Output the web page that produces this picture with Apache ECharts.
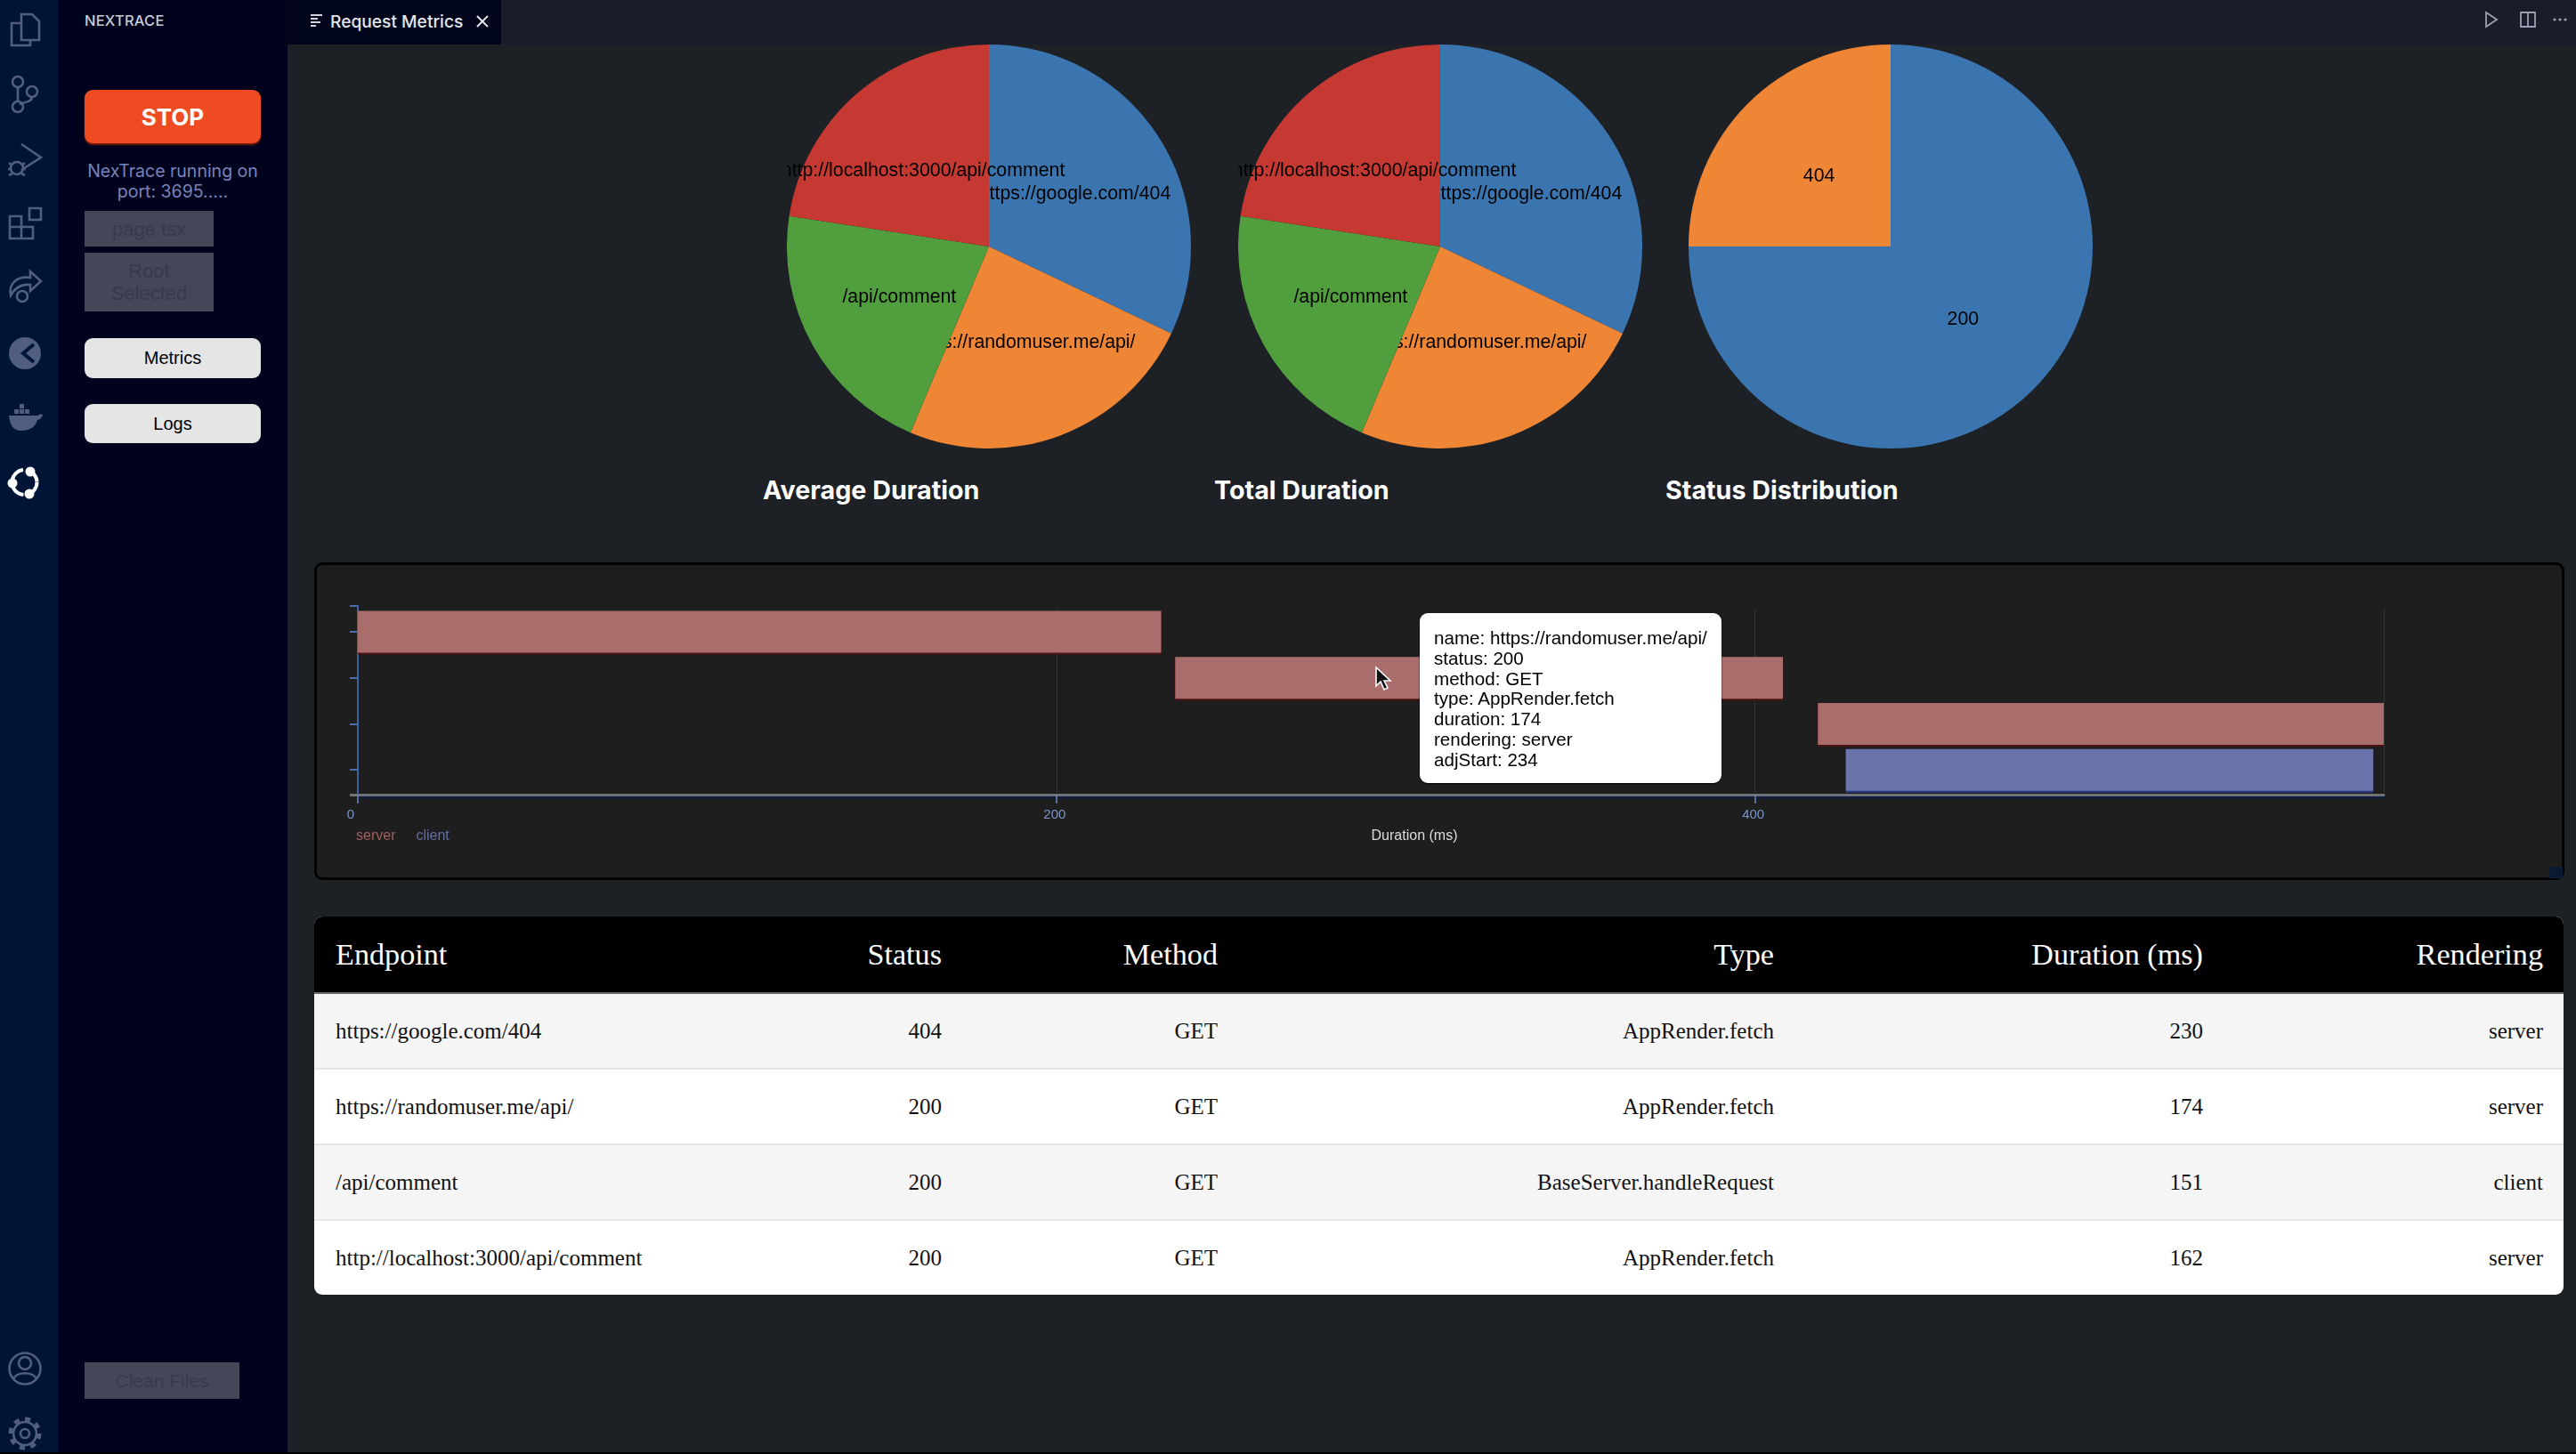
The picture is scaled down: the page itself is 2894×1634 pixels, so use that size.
<!DOCTYPE html>
<html>
<head>
<meta charset="utf-8">
<title>Request Metrics</title>
<script src="https://cdn.jsdelivr.net/npm/echarts@6/dist/echarts.min.js"></script>
<style>
html, body { margin: 0; padding: 0; width: 2894px; height: 1634px; overflow: hidden; background: #1d2025; }
div { position: absolute; box-sizing: border-box; }
svg { position: absolute; overflow: visible; }
.ui { font-family: Inter, "Liberation Sans", sans-serif; text-align: center; }
.btn { display: flex; align-items: center; justify-content: center; line-height: 25px; text-align: center; }
.off { background: #454658; color: #383a4a; font-size: 22px; font-family: "Liberation Sans", sans-serif; }
.light { left: 95px; width: 198px; background: #e5e5e5; border-radius: 9px; color: #000; font-size: 20px; font-family: "Liberation Sans", sans-serif; }
.title { top: 531px; height: 40px; color: #fff; font: 700 28.7px/40px Inter, sans-serif; white-space: nowrap; }
.pie { top: 50px; width: 454px; height: 454px; }
table { position: absolute; left: 353px; top: 1030px; width: 2527px; border-collapse: separate; border-spacing: 0; table-layout: fixed;
  font-family: "Liberation Serif", serif; font-size: 25px; color: #111; border-radius: 9px; overflow: hidden; background: #fff; }
th { height: 85px; background: #000; color: #fff; font-size: 34.2px; font-weight: 400; text-align: right; padding: 0 23px; }
td { height: 85px; text-align: right; padding: 0 23px; border-top: 2px solid #e6e6e6; box-sizing: border-box; }
th:first-child, td:first-child { text-align: left; padding-left: 24px; }
tbody tr:nth-child(odd) td { background: #f5f5f5; }
tbody tr:nth-child(1) td { border-top: 2px solid #666; }
</style>
</head>
<body>
<!-- sidebar, tabs -->
<div style="left:0;top:0;width:65px;height:1634px;background:#001535"></div>
<div style="left:65px;top:0;width:258px;height:1634px;background:#00021e"></div>
<div style="left:323px;top:0;width:2571px;height:50px;background:#1a1c2b"></div>
<div style="left:323px;top:0;width:240px;height:50px;background:#00051c"></div>
<div style="left:0;top:1632px;width:2894px;height:2px;background:#000"></div>

<svg style="left:0;top:0" width="65" height="1634" fill="none" stroke="#515e80" stroke-width="2.6">
  <path d="M24 16h12l8 8v21H24zM24 26H13v25h21v-6"/>
  <circle cx="20" cy="92" r="6"/><circle cx="20" cy="120" r="6"/><circle cx="36" cy="103" r="6"/><path d="M20 98v16M36 109c0 6-10 6-14 8"/>
  <path d="M24 162l22 15-22 14"/><circle cx="19" cy="189" r="7"/><path d="M10 183l4 3M10 197l4-2M28 183l-4 3M28 197l-4-2M9 190h3M26 190h3"/>
  <path d="M11 243h13v12H11zM11 255h13v13H11zM24 255h13v13H24zM33 234h13v13H33z"/>
  <path d="M12 332c-3-14 8-22 22-20v-7l12 11-12 11v-7c-10-1-17 3-22 12z"/><circle cx="25" cy="333" r="6"/>
  <g fill="#515e80" stroke="none">
    <circle cx="28" cy="397" r="18"/>
    <path d="M10 467h32c2-1 4-2 6-1-1 4-4 6-6 6-2 8-9 12-18 12-9 0-13-6-14-17z"/>
    <path d="M16 460h5v5h-5zM22 460h5v5h-5zM28 460h5v5h-5zM22 454h5v5h-5z"/>
  </g>
  <path d="M38 387l-12 10 12 10" stroke="#00153a" stroke-width="4"/>
  <circle cx="27.5" cy="542" r="14" stroke="#fff" stroke-width="4" stroke-dasharray="18 5"/>
  <g fill="#fff" stroke="none"><circle cx="34" cy="530" r="5.5"/><circle cx="14" cy="543" r="5.5"/><circle cx="33" cy="555" r="5.5"/></g>
  <circle cx="28" cy="1538" r="17.5"/><circle cx="28" cy="1532" r="7"/><path d="M15 1550c3-9 23-9 26 0"/>
  <circle cx="28" cy="1611" r="5"/><circle cx="28" cy="1611" r="13"/><circle cx="28" cy="1611" r="16" stroke-width="5" stroke-dasharray="6 6.5"/>
</svg>

<div class="ui" style="left:95px;top:12px;color:#c8ccd6;font-size:16.5px;line-height:22px;font-weight:500;letter-spacing:.2px">NEXTRACE</div>
<div class="ui btn" style="left:95px;top:101px;width:198px;height:60px;background:#ee4b23;border-radius:9px;color:#fff;font-size:26px;font-weight:700;box-shadow:0 2px 2px #7a1f0a">STOP</div>
<div class="ui" style="left:65px;top:181px;width:258px;color:#7a83bb;font-size:19.5px;line-height:23px">NexTrace running on<br>port: 3695.....</div>
<div class="btn off" style="left:95px;top:237px;width:145px;height:40px">page.tsx</div>
<div class="btn off" style="left:95px;top:284px;width:145px;height:66px">Root<br>Selected</div>
<div class="btn light" style="top:380px;height:45px">Metrics</div>
<div class="btn light" style="top:454px;height:44px">Logs</div>
<div class="btn off" style="left:95px;top:1531px;width:174px;height:41px;font-size:21px">Clean Files</div>

<svg style="left:348px;top:16px" width="18" height="16" fill="none" stroke="#cfd3dc" stroke-width="1.8"><path d="M1 1h13M1 5h8M1 9h11M1 13h6"/></svg>
<div style="left:371px;top:10px;color:#e4e6ec;font:500 19.2px/28px Inter,sans-serif;white-space:nowrap">Request Metrics</div>
<svg style="left:535px;top:17px" width="14" height="14" fill="none" stroke="#e4e6ec" stroke-width="2"><path d="M1 1l12 12M13 1L1 13"/></svg>
<svg style="left:2790px;top:12px" width="90" height="20" fill="none" stroke="#9aa0b0" stroke-width="1.8">
  <path d="M3 2l12 8-12 8z"/><path d="M42 2h16v16H42zM50 2v16"/>
  <g fill="#9aa0b0" stroke="none"><circle cx="80" cy="10" r="1.6"/><circle cx="86" cy="10" r="1.6"/><circle cx="92" cy="10" r="1.6"/></g>
</svg>

<!-- pies -->
<div class="pie" id="avgPie" style="left:884px"></div>
<div class="pie" id="totalPie" style="left:1391px"></div>
<div class="pie" id="statusPie" style="left:1897px"></div>
<div class="title" style="left:857px">Average Duration</div>
<div class="title" style="left:1364px">Total Duration</div>
<div class="title" style="left:1871px">Status Distribution</div>

<!-- timeline -->
<div style="left:353px;top:632px;width:2528px;height:357px;background:#1e1e1e;border:3px solid #000;border-radius:9px"></div>
<div id="timeline" style="left:357px;top:635px;width:2521px;height:351px"></div>
<div style="left:2864px;top:974px;width:15px;height:13px;background:#0a1a33"></div>
<!-- outer ticks of the y axis -->
<div style="left:393px;top:680px;width:10px;height:2px;background:#4a6aa8"></div>
<div style="left:401px;top:680px;width:2px;height:6px;background:#3f5f9f"></div>
<div style="left:393px;top:892px;width:9px;height:3px;background:#707276"></div>

<table id="table"></table>

<svg style="left:1544px;top:749px" width="20" height="28"><path d="M2 1v21l5-5 4 9 4-2-4-8h7z" fill="#111" stroke="#fff" stroke-width="1.6"/></svg>

<script>
var endpoints = ['https://google.com/404', 'https://randomuser.me/api/', '/api/comment', 'http://localhost:3000/api/comment'];
var statuses = [404, 200, 200, 200];
var methods = ['GET', 'GET', 'GET', 'GET'];
var types = ['AppRender.fetch', 'AppRender.fetch', 'BaseServer.handleRequest', 'AppRender.fetch'];
var durations = [230, 174, 151, 162];
var renderings = ['server', 'server', 'client', 'server'];

var statusNames = ['200', '404'];
var statusCounts = [3, 1];

// timeline rows, top to bottom
var rowNames = ['https://google.com/404', 'https://randomuser.me/api/', 'http://localhost:3000/api/comment', '/api/comment'];
var adjStarts = [0, 234, 418, 426];
var serverDurations = [230, 174, 162, null];
var clientDurations = [null, null, null, 151];

var pieColors = ['#3a75af', '#ef8636', '#519e3e', '#c53932'];

// one layer per slice: a later slice covers the label of the one before it
function createPie(id, names, values, labelOffsets) {
    var chart = echarts.init(document.getElementById(id));
    chart.setOption({
        animation: false,
        series: names.map(function (_, i) {
            return {
                type: 'pie',
                z: 2 + i,
                silent: true,
                radius: '100%',
                center: ['50%', '50%'],
                startAngle: 90,
                avoidLabelOverlap: false,
                minShowLabelAngle: 0,
                labelLine: {show: false},
                label: {position: 'inside', color: '#000', fontSize: 21.3, fontFamily: '"Liberation Sans", sans-serif', textBorderWidth: 0},
                data: names.map(function (name, j) {
                    return {
                        name: name,
                        value: values[j],
                        itemStyle: {color: j === i ? pieColors[i] : 'transparent', borderWidth: 0},
                        label: {show: j === i, offset: labelOffsets[j]}
                    };
                })
            };
        })
    });
}

var durationLabelOffsets = [[-2, 3], [-3, -1], [1, 0], [2, 3]];
createPie('avgPie', endpoints, durations, durationLabelOffsets);
createPie('totalPie', endpoints, durations, durationLabelOffsets);
createPie('statusPie', statusNames, statusCounts, [[-1, 0], [2, 3]]);

// table
var headers = ['Endpoint', 'Status', 'Method', 'Type', 'Duration (ms)', 'Rendering'];
var colWidths = [401, 327, 310, 625, 482, 382];
var html = '<colgroup>' + colWidths.map(function (w) { return '<col style="width:' + w + 'px">'; }).join('') + '</colgroup>';
html += '<thead><tr>' + headers.map(function (h) { return '<th>' + h + '</th>'; }).join('') + '</tr></thead><tbody>';
endpoints.forEach(function (e, i) {
    html += '<tr>' + [e, statuses[i], methods[i], types[i], durations[i], renderings[i]].map(function (v) { return '<td>' + v + '</td>'; }).join('') + '</tr>';
});
document.getElementById('table').innerHTML = html + '</tbody>';

// timeline
var hovered = 1;
var timeline = echarts.init(document.getElementById('timeline'));
timeline.setOption({
    animation: false,
    grid: {left: 45, top: 49, width: 2276, height: 207},
    legend: {
        left: 38, top: 297, padding: 0, itemWidth: 0, itemHeight: 10, itemGap: 18, selectedMode: false, icon: 'rect',
        textStyle: {fontSize: 16, fontFamily: '"Liberation Sans", sans-serif'},
        data: [
            {name: 'server', textStyle: {color: '#a0615f'}},
            {name: 'client', textStyle: {color: '#626da3'}}
        ]
    },
    tooltip: {
        trigger: 'item',
        alwaysShowContent: true,
        transitionDuration: 0,
        position: [1238, 54],
        padding: [17, 16, 14, 16],
        backgroundColor: '#fff',
        borderWidth: 0,
        borderRadius: 9,
        extraCssText: 'box-shadow:0 1px 2px #000;',
        textStyle: {color: '#000', fontSize: 20.6, fontFamily: '"Liberation Sans", sans-serif', lineHeight: 23},
        formatter: function (params) {
            var name = params.name;
            var i = endpoints.indexOf(name);
            return '<div style="position:static;line-height:22.8px">name: ' + name + '<br>status: ' + statuses[i] + '<br>method: ' + methods[i] +
                '<br>type: ' + types[i] + '<br>duration: ' + durations[i] + '<br>rendering: ' + renderings[i] +
                '<br>adjStart: ' + adjStarts[params.dataIndex] + '</div>';
        }
    },
    xAxis: {
        type: 'value',
        min: 0,
        max: 580,
        interval: 200,
        offset: 2,
        name: 'Duration (ms)',
        nameLocation: 'middle',
        nameGap: 39,
        nameTextStyle: {color: '#dcdcdc', fontSize: 16, fontWeight: 500, fontFamily: '"Liberation Sans", sans-serif', padding: [0, 0, 0, 98]},
        axisLine: {show: true, lineStyle: {color: '#707276', width: 3, shadowColor: '#0c1c44', shadowOffsetY: 2, shadowBlur: 0}},
        axisTick: {show: true, length: 10, lineStyle: {color: '#6f88bd', width: 1.5}},
        axisLabel: {color: '#7c94c8', fontSize: 15, margin: 15, padding: [0, 4, 0, 0], showMaxLabel: false, alignMinLabel: 'right', fontFamily: '"Liberation Sans", sans-serif'},
        splitLine: {show: true, lineStyle: {color: '#343434', width: 1}}
    },
    yAxis: {
        type: 'category',
        inverse: true,
        data: rowNames,
        axisLine: {show: true, lineStyle: {color: '#3f5f9f', width: 2}},
        axisTick: {show: true, alignWithLabel: true, length: 9, lineStyle: {color: '#4a6aa8', width: 2}},
        axisLabel: {show: false},
        splitLine: {show: false}
    },
    series: [
        {type: 'bar', name: 'offset', stack: 'time', barWidth: 47, silent: true, tooltip: {show: false}, itemStyle: {color: 'transparent'}, data: adjStarts},
        {type: 'bar', name: 'server', stack: 'time', barWidth: 47, itemStyle: {color: '#a96d6c', shadowColor: '#4a1212', shadowOffsetY: 2, shadowBlur: 0}, data: serverDurations},
        {type: 'bar', name: 'client', stack: 'time', barWidth: 47, itemStyle: {color: '#6a74ab', shadowColor: '#2b3a86', shadowOffsetY: 2, shadowBlur: 0}, data: clientDurations}
    ]
});
timeline.dispatchAction({type: 'showTip', seriesIndex: 1, dataIndex: hovered});
</script>
</body>
</html>
